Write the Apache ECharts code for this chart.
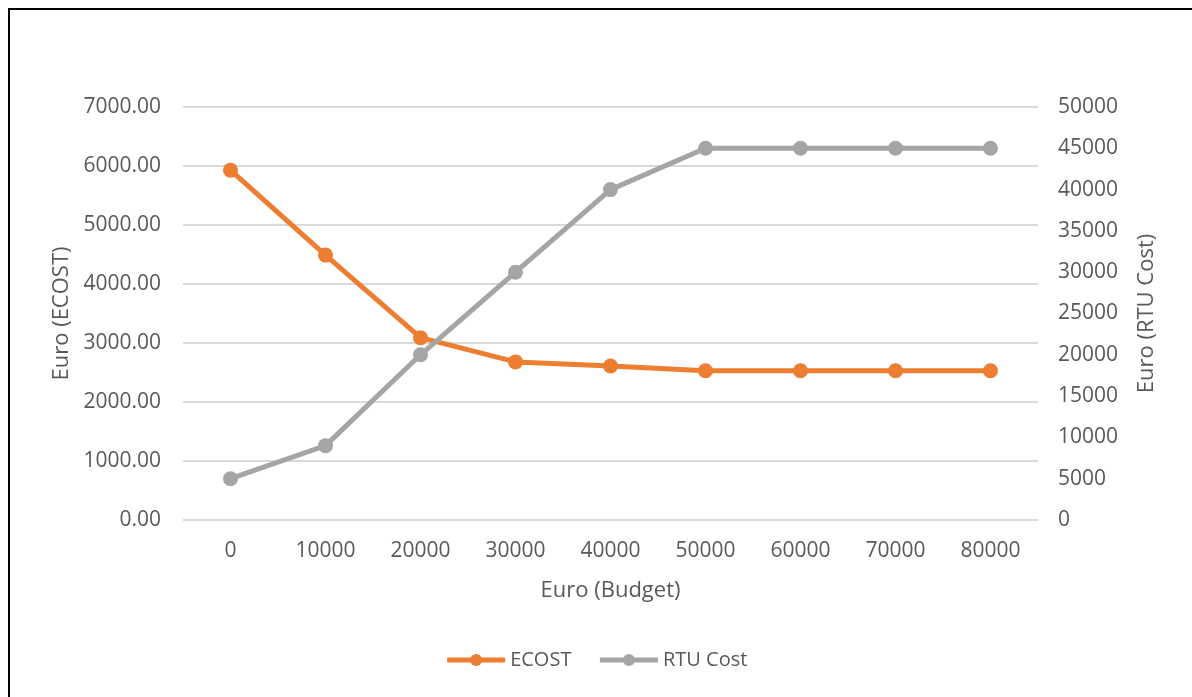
<!DOCTYPE html>
<html><head><meta charset="utf-8">
<script src="https://cdn.jsdelivr.net/npm/echarts@6/dist/echarts.min.js"></script>
<style>
html,body{margin:0;padding:0;background:#fff;}
#frame{position:absolute;left:8px;top:8px;width:1184px;height:689px;border-top:2px solid #000;border-left:2px solid #000;box-sizing:border-box;}
#chart{position:absolute;left:0;top:0;width:1192px;height:697px;}
</style></head>
<body>
<div id="frame"></div>
<div id="chart"></div>
<script>
const categories = ['0','10000','20000','30000','40000','50000','60000','70000','80000'];
const ecost = [5930, 4490, 3090, 2680, 2610, 2530, 2530, 2530, 2530];
const rtuCost = [5000, 9000, 20000, 30000, 40000, 45000, 45000, 45000, 45000];
const leftTicks = [0, 1000, 7000];
const rightTicks = [0, 5000, 50000];
const FONT = '"Open Sans", Lato, sans-serif';
const txt = '#595959';
const chart = echarts.init(document.getElementById('chart'));
chart.setOption({
  animation:false,
  textStyle:{fontFamily:FONT,color:txt},
  grid:{left:183,right:154,top:107,bottom:177},
  legend:{bottom:22,left:'center',itemWidth:58,itemHeight:15,itemGap:26,
    lineStyle:{width:5},
    textStyle:{fontSize:20,color:txt,fontFamily:FONT},
    data:['ECOST','RTU Cost']},
  xAxis:{type:'category',data:categories,boundaryGap:true,
    name:'Euro (Budget)',nameLocation:'middle',nameGap:60,
    nameTextStyle:{fontSize:22,color:txt,fontFamily:FONT},
    axisLine:{show:false},axisTick:{show:false},
    axisLabel:{fontSize:21,color:txt,margin:21}},
  yAxis:[{type:'value',min:leftTicks[0],max:leftTicks[2],interval:leftTicks[1],
    name:'Euro (ECOST)',nameLocation:'middle',nameGap:109,nameRotate:90,
    nameTextStyle:{fontSize:22,color:txt,fontFamily:FONT},
    axisLine:{show:false},axisTick:{show:false},
    axisLabel:{fontSize:21,color:txt,margin:22,formatter:v=>v.toFixed(2)},
    splitLine:{lineStyle:{color:'#d9d9d9',width:2}}},
   {type:'value',min:rightTicks[0],max:rightTicks[2],interval:rightTicks[1],
    name:'Euro (RTU Cost)',nameLocation:'middle',nameGap:98,nameRotate:90,
    nameTextStyle:{fontSize:22,color:txt,fontFamily:FONT},
    axisLine:{show:false},axisTick:{show:false},
    axisLabel:{fontSize:21,color:txt,margin:20,formatter:v=>String(v)},
    splitLine:{show:false}}],
  series:[
    {name:'ECOST',type:'line',yAxisIndex:0,data:ecost,
     symbol:'circle',symbolSize:15,
     lineStyle:{color:'#ed7d31',width:5},itemStyle:{color:'#ed7d31'}},
    {name:'RTU Cost',type:'line',yAxisIndex:1,data:rtuCost,
     symbol:'circle',symbolSize:15,
     lineStyle:{color:'#a5a5a5',width:5},itemStyle:{color:'#a5a5a5'}}
  ]
});
</script>
</body></html>
